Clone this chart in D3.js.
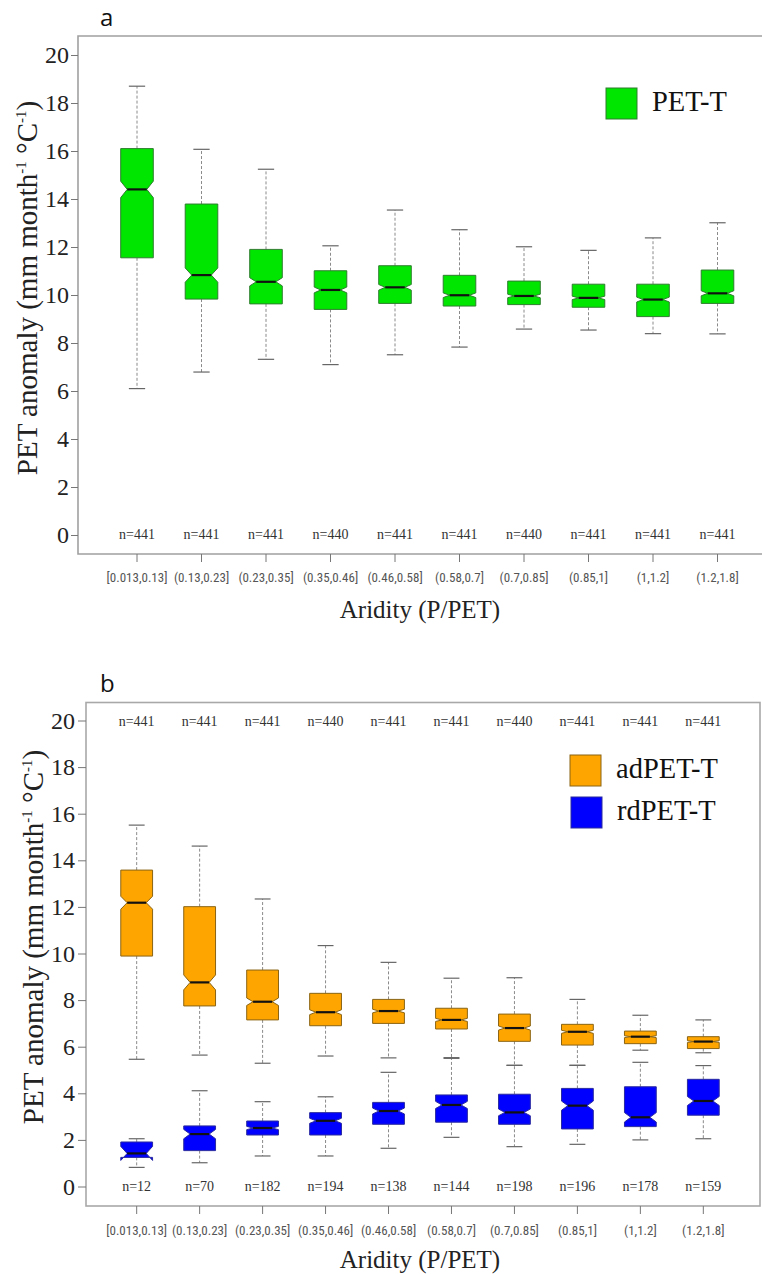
<!DOCTYPE html>
<html>
<head>
<meta charset="utf-8">
<script src="https://cdn.jsdelivr.net/npm/d3@7"></script>
<style>
  body { margin: 0; background: #fff; }
  svg { display: block; }
</style>
</head>
<body>
<div id="chart"></div>
<script>
// aridity classes
var categories = ["[0.013,0.13]", "(0.13,0.23]", "(0.23,0.35]", "(0.35,0.46]", "(0.46,0.58]",
                  "(0.58,0.7]", "(0.7,0.85]", "(0.85,1]", "(1,1.2]", "(1.2,1.8]"];
var yTicks = [0, 2, 4, 6, 8, 10, 12, 14, 16, 18, 20];

// panel a : PET-T
var nAll = [441, 441, 441, 440, 441, 441, 440, 441, 441, 441];
var petLow = [6.1, 6.79, 7.32, 7.10, 7.51, 7.83, 8.58, 8.54, 8.39, 8.38];
var petQ1  = [11.55, 9.83, 9.63, 9.40, 9.65, 9.54, 9.60, 9.49, 9.10, 9.65];
var petMed = [14.4, 10.83, 10.55, 10.21, 10.32, 9.99, 9.96, 9.88, 9.81, 10.07];
var petQ3  = [16.1, 13.79, 11.9, 11.01, 11.22, 10.82, 10.58, 10.45, 10.45, 11.04];
var petHigh = [18.7, 16.07, 15.24, 12.05, 13.54, 12.72, 12.01, 11.86, 12.38, 13.01];

// panel b : adPET-T
var adLow = [5.46, 5.64, 5.29, 5.60, 5.52, 5.53, 5.20, 5.20, 5.85, 5.74];
var adQ1  = [9.89, 7.75, 7.15, 6.90, 7.00, 6.76, 6.23, 6.07, 6.13, 5.92];
var adMed = [12.18, 8.76, 7.93, 7.48, 7.53, 7.15, 6.80, 6.64, 6.43, 6.22];
var adQ3  = [13.58, 12.01, 9.29, 8.29, 8.03, 7.65, 7.40, 6.96, 6.67, 6.43];
var adHigh = [15.51, 14.61, 12.34, 10.34, 9.62, 8.94, 8.96, 8.03, 7.35, 7.15];

// panel b : rdPET-T
var nRd = [12, 70, 182, 194, 138, 144, 198, 196, 178, 159];
var rdLow = [0.82, 1.02, 1.31, 1.31, 1.64, 2.11, 1.71, 1.81, 2.00, 2.05];
var rdQ1  = [1.25, 1.54, 2.21, 2.21, 2.67, 2.76, 2.67, 2.47, 2.57, 3.06];
var rdMed = [1.42, 2.25, 2.51, 2.82, 3.24, 3.50, 3.18, 3.47, 2.97, 3.67];
var rdQ3  = [1.91, 2.60, 2.81, 3.17, 3.61, 3.93, 3.96, 4.21, 4.28, 4.60];
var rdHigh = [2.05, 4.11, 3.64, 3.85, 4.90, 5.50, 5.20, 5.20, 5.33, 5.19];

var W = 762, H = 1274;
var serif = "Liberation Serif";
var narrow = "Roboto Condensed";

var svg = d3.select("#chart").append("svg")
    .attr("width", W)
    .attr("height", H)
    .style("background", "#fff");

function seriesRows(low, q1, med, q3, high, n) {
    return categories.map(function(c, i) {
        return {cat: c, lo: low[i], q1: q1[i], med: med[i], q3: q3[i], hi: high[i], n: n[i]};
    });
}

function drawBoxes(g, x, y, rows, fill, stroke) {
    var bw = x.bandwidth();
    var w = bw * 0.505;
    rows.forEach(function(d) {
        var cx = x(d.cat) + bw / 2;
        var L = cx - w / 2, R = cx + w / 2;
        var inset = w * 0.2;
        // notch half-height, as R's boxplot does it
        var half = 1.58 * (d.q3 - d.q1) / Math.sqrt(d.n);
        var nlo = d.med - half, nhi = d.med + half;
        // whiskers
        g.append("line").attr("x1", cx).attr("x2", cx)
            .attr("y1", y(d.q3)).attr("y2", y(d.hi))
            .attr("stroke", "#8a8a8a").attr("stroke-dasharray", "3,2");
        g.append("line").attr("x1", cx).attr("x2", cx)
            .attr("y1", y(d.q1)).attr("y2", y(d.lo))
            .attr("stroke", "#8a8a8a").attr("stroke-dasharray", "3,2");
        [d.hi, d.lo].forEach(function(v) {
            g.append("line").attr("x1", cx - w / 4).attr("x2", cx + w / 4)
                .attr("y1", y(v)).attr("y2", y(v))
                .attr("stroke", "#666").attr("stroke-width", 1.2);
        });
        // notched box
        var pts = [[L, y(d.q1)], [L, y(nlo)], [L + inset, y(d.med)], [L, y(nhi)], [L, y(d.q3)],
                   [R, y(d.q3)], [R, y(nhi)], [R - inset, y(d.med)], [R, y(nlo)], [R, y(d.q1)]];
        g.append("path")
            .attr("d", d3.line()(pts) + "Z")
            .attr("fill", fill)
            .attr("stroke", stroke)
            .attr("stroke-width", 1);
        g.append("line").attr("x1", L + inset).attr("x2", R - inset)
            .attr("y1", y(d.med)).attr("y2", y(d.med))
            .attr("stroke", "#111").attr("stroke-width", 2.2);
    });
}

function nLabels(g, x, yPos, n) {
    g.selectAll(null).data(categories).enter().append("text")
        .attr("x", function(c) { return x(c) + x.bandwidth() / 2; })
        .attr("y", yPos)
        .attr("text-anchor", "middle")
        .attr("font-family", serif)
        .attr("font-size", 14)
        .attr("fill", "#333")
        .text(function(c, i) { return "n=" + n[i]; });
}

function yTitle(g, cx, cy) {
    var t = g.append("text")
        .attr("transform", "translate(" + cx + "," + cy + ") rotate(-90)")
        .attr("text-anchor", "middle")
        .attr("font-family", serif)
        .attr("font-size", 29)
        .attr("fill", "#222");
    t.append("tspan").text("PET anomaly (mm month");
    t.append("tspan").attr("font-size", 15).attr("dy", -11).text("-1");
    t.append("tspan").attr("dy", 11).text(" \u00b0C");
    t.append("tspan").attr("font-size", 15).attr("dy", -11).text("-1");
    t.append("tspan").attr("dy", 11).text(")");
}

function drawAxes(g, x, y, left, bottom, tickLen, labPad, yPad) {
    var ya = g.append("g").attr("transform", "translate(" + left + ",0)")
        .call(d3.axisLeft(y).tickValues(yTicks).tickSize(tickLen).tickPadding(yPad));
    ya.select(".domain").remove();
    ya.selectAll(".tick line").attr("stroke", "#777");
    ya.selectAll(".tick text").attr("font-family", serif).attr("font-size", 24).attr("fill", "#222");

    var xa = g.append("g").attr("transform", "translate(0," + bottom + ")")
        .call(d3.axisBottom(x).tickSize(8).tickPadding(labPad));
    xa.select(".domain").remove();
    xa.selectAll(".tick line").attr("stroke", "#777");
    xa.selectAll(".tick text").attr("font-family", narrow).attr("font-size", 13).attr("fill", "#555");
}

function legendItem(g, x0, y0, fill, stroke, label) {
    g.append("rect").attr("x", x0).attr("y", y0).attr("width", 31).attr("height", 31)
        .attr("fill", fill).attr("stroke", stroke).attr("stroke-width", 1);
    g.append("text").attr("x", x0 + 46).attr("y", y0 + 23)
        .attr("font-family", serif).attr("font-size", 28.5).attr("fill", "#111")
        .text(label);
}

// ---------- panel a ----------
var ga = svg.append("g");
var xA = d3.scaleBand().domain(categories).range([104.75, 749.75]).padding(0);
var yA = d3.scaleLinear().domain([0, 20]).range([535, 55]);

ga.append("path").attr("d", "M762,36 H78 V554 H762")
    .attr("fill", "none").attr("stroke", "#a0a0a0").attr("stroke-width", 1.6);
drawAxes(ga, xA, yA, 78, 554, 7, 11, 2);
drawBoxes(ga, xA, yA, seriesRows(petLow, petQ1, petMed, petQ3, petHigh, nAll), "#00e600", "#2f7d2f");
nLabels(ga, xA, 539, nAll);
legendItem(ga, 606, 88, "#00e600", "#2f7d2f", "PET-T");
ga.append("text").attr("x", 420).attr("y", 618).attr("text-anchor", "middle")
    .attr("font-family", serif).attr("font-size", 25).attr("fill", "#222")
    .text("Aridity (P/PET)");
yTitle(ga, 37, 288);
ga.append("text").attr("x", 100).attr("y", 26)
    .attr("font-family", "Open Sans").attr("font-size", 24).attr("fill", "#111")
    .text("a");

// ---------- panel b ----------
var gb = svg.append("g");
var xB = d3.scaleBand().domain(categories).range([105.2, 734.8]).padding(0);
var yB = d3.scaleLinear().domain([0, 20]).range([1186.5, 720.5]);

gb.append("rect").attr("x", 86).attr("y", 702.5).attr("width", 674).attr("height", 503.5)
    .attr("fill", "none").attr("stroke", "#a8a8a8").attr("stroke-width", 1.6);
drawAxes(gb, xB, yB, 86, 1206, 8, 12, 3);
drawBoxes(gb, xB, yB, seriesRows(adLow, adQ1, adMed, adQ3, adHigh, nAll), "#ffa500", "#8a6414");
drawBoxes(gb, xB, yB, seriesRows(rdLow, rdQ1, rdMed, rdQ3, rdHigh, nRd), "#0000ff", "#2a2aa0");
nLabels(gb, xB, 726, nAll);
nLabels(gb, xB, 1191, nRd);
legendItem(gb, 570, 755, "#ffa500", "#8a6414", "adPET-T");
legendItem(gb, 571, 797, "#0000ff", "#2a2aa0", "rdPET-T");
gb.append("text").attr("x", 420).attr("y", 1268).attr("text-anchor", "middle")
    .attr("font-family", serif).attr("font-size", 25).attr("fill", "#222")
    .text("Aridity (P/PET)");
yTitle(gb, 43, 937);
gb.append("text").attr("x", 100).attr("y", 692)
    .attr("font-family", "Open Sans").attr("font-size", 24).attr("fill", "#111")
    .text("b");
</script>
</body>
</html>
